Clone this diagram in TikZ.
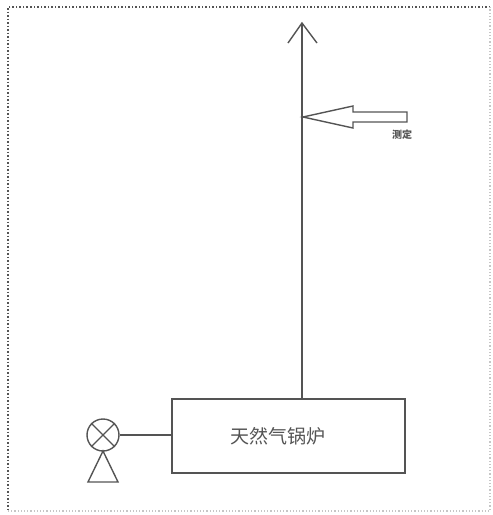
\documentclass[tikz,border=0pt]{standalone}
\usepackage{fontspec}
\newfontfamily\cjk{Noto Sans CJK SC}
\newfontfamily\cjkb{Noto Sans CJK SC Medium}[]
\usetikzlibrary{shapes.geometric}
\definecolor{ink}{gray}{0.33}
\begin{document}
\begin{tikzpicture}[x=1pt,y=-1pt,
  ln/.style={draw=ink,line width=1.4pt},
  boiler/.style={ln,rectangle,minimum width=233pt,minimum height=74pt,inner sep=0pt}]
\useasboundingbox (0,0) rectangle (493,515);
% dotted frame
\draw[ink,line width=1.5pt,dotted] (490,7) -- (8,7) -- (8,511);
\draw[gray!45,line width=1.2pt,dotted] (8,511) -- (490,511) -- (490,7);
% boiler box
\node[boiler,label={[xshift=-11pt,font=\cjk\fontsize{19}{19}\selectfont,text=ink]center:天然气锅炉}] (box) at (288.5,436) {};
% flue line up
\coordinate (top) at (302,23);
\coordinate (base) at (302,399);
\draw[ln] (base) -- (top);
\draw[ln] (288,43) -- (top) -- (317,43);
% hollow measuring arrow
\coordinate (tip) at (303,117);
\draw[ln,line join=miter] (tip) -- (353,106) -- (353,112) -- (407,112) -- (407,122) -- (353,122) -- (353,128) -- cycle;
\node[font=\cjk\bfseries\fontsize{10}{10}\selectfont,text=ink,inner sep=0pt] (meas) at (402,135) {测定};
% valve
\node[ln,circle,minimum size=32pt,inner sep=0pt] (valve) at (103,435) {};
\draw[ln] (valve.45) -- (valve.225);
\draw[ln] (valve.135) -- (valve.315);
\coordinate (apex) at (103,451);
\draw[ln,line join=miter] (apex) -- (118,482) -- (88,482) -- cycle;
\draw[ln] (valve.east) -- (valve.east -| box.west);
\end{tikzpicture}
\end{document}
